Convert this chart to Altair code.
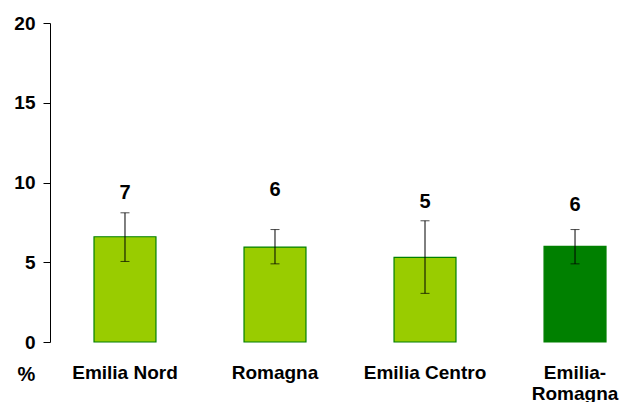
import altair as alt
import pandas as pd

categories = ["Emilia Nord", "Romagna", "Emilia Centro", "Emilia-Romagna"]
values = [6.6, 5.95, 5.3, 6.0]
ci_low = [5.05, 4.9, 3.05, 4.9]
ci_high = [8.1, 7.05, 7.6, 7.05]
labels = ["7", "6", "5", "6"]
label_pos = [9.35, 9.55, 8.8, 8.6]
kind = ["macro", "macro", "macro", "region"]

df = pd.DataFrame({
    "cat": categories, "val": values, "lo": ci_low, "hi": ci_high,
    "lab": labels, "lpos": label_pos, "kind": kind,
})

FONT = "Liberation Sans"

x = alt.X(
    "cat:N", sort=categories, title=None,
    scale=alt.Scale(paddingInner=0.587, paddingOuter=0.19, align=0.772),
    axis=alt.Axis(
        domain=False, ticks=False, labelAngle=0, labelFont=FONT,
        labelFontSize=19, labelFontWeight="bold", labelColor="black",
        labelPadding=30, labelBaseline="middle", labelLineHeight=21,
        labelExpr="datum.value == 'Emilia-Romagna' ? ['Emilia-', 'Romagna'] : datum.value",
    ),
)

yscale = alt.Scale(domain=[0, 20], nice=False)

bars = alt.Chart(df).mark_bar(strokeWidth=1.2, stroke="#008000").encode(
    x=x,
    y=alt.Y(
        "val:Q", scale=yscale, title="%",
        axis=alt.Axis(
            values=[0, 5, 10, 15, 20], grid=False, domainColor="black",
            tickColor="black", tickSize=7, labelFont=FONT, labelFontSize=19,
            labelFontWeight="bold", labelColor="black", labelPadding=8,
            domainWidth=1, tickWidth=1,
            titleAngle=0, titleX=-24, titleY=351, titleFont=FONT,
            titleFontSize=20, titleFontWeight="bold", titleColor="black",
            titleAlign="center", titleBaseline="middle",
        ),
    ),
    fill=alt.Fill(
        "kind:N", legend=None,
        scale=alt.Scale(domain=["macro", "region"], range=["#99CC00", "#008000"]),
    ),
)

rules = alt.Chart(df).mark_rule(color="black", strokeWidth=1).encode(
    x=alt.X("cat:N", sort=categories), y=alt.Y("lo:Q", scale=yscale), y2="hi:Q"
)
cap_lo = alt.Chart(df).mark_tick(color="black", size=9, thickness=1).encode(
    x=alt.X("cat:N", sort=categories), y=alt.Y("lo:Q", scale=yscale)
)
cap_hi = alt.Chart(df).mark_tick(color="black", size=9, thickness=1).encode(
    x=alt.X("cat:N", sort=categories), y=alt.Y("hi:Q", scale=yscale)
)
text = alt.Chart(df).mark_text(
    font=FONT, fontSize=20, fontWeight="bold", color="black", baseline="middle"
).encode(
    x=alt.X("cat:N", sort=categories), y=alt.Y("lpos:Q", scale=yscale), text="lab:N"
)

chart = (
    alt.layer(bars, rules, cap_lo, cap_hi, text)
    .properties(
        width=569, height=319,
        autosize=alt.AutoSizeParams(type="none"),
        padding={"left": 42, "top": 15, "right": 0, "bottom": 60},
        background="white",
    )
    .configure_view(stroke=None)
)

chart.save("out.html", embed_options={"renderer": "svg", "actions": False})
